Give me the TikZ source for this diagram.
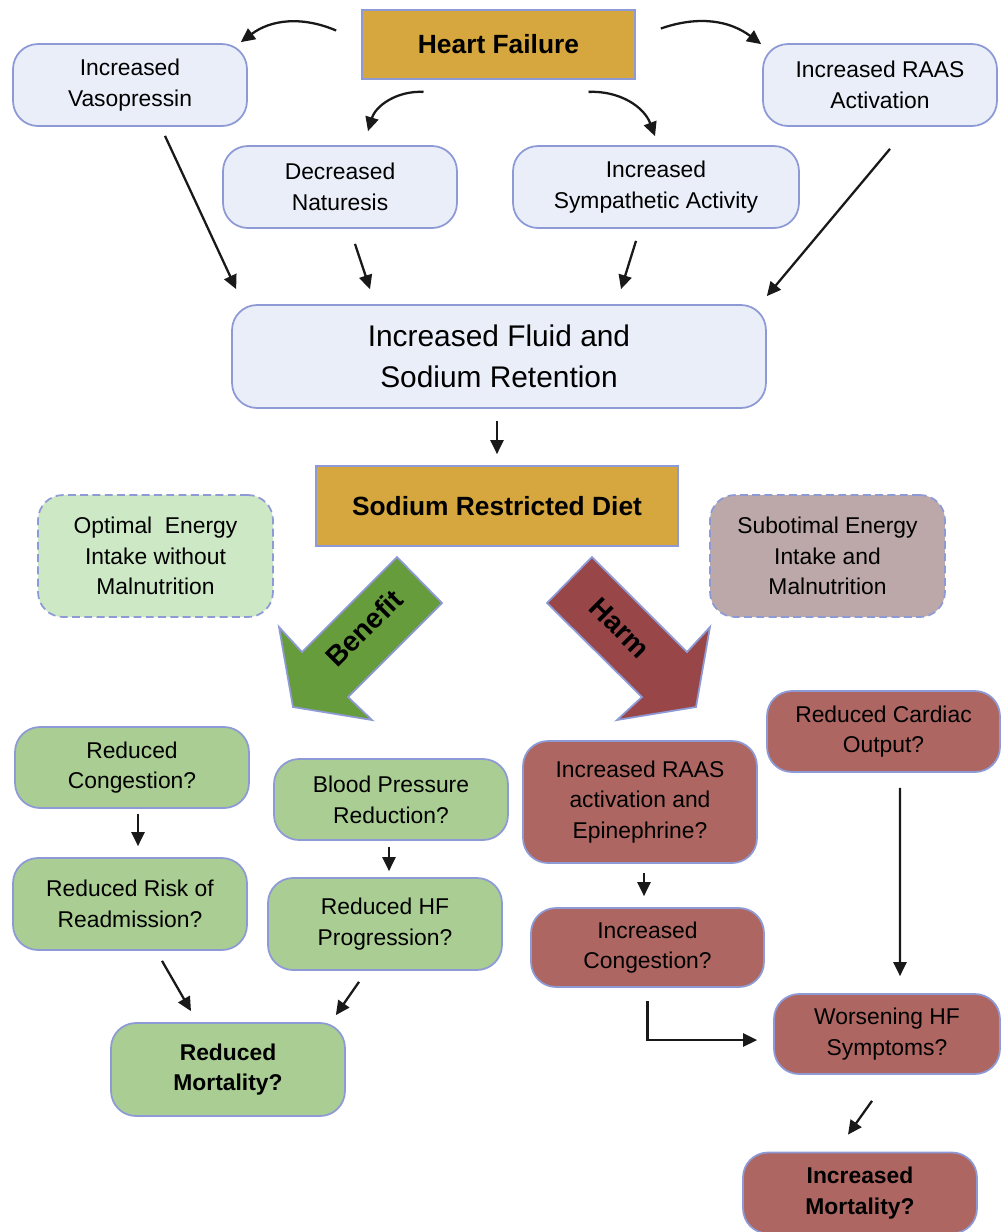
\documentclass[tikz,border=0pt]{standalone}
\usepackage{fontspec}
\setmainfont{Liberation Sans}
\usetikzlibrary{calc,arrows.meta}
\definecolor{edgeblue}{HTML}{8E9AD6}
\definecolor{paleblue}{HTML}{EAEEF9}
\definecolor{gold}{HTML}{D5A73E}
\definecolor{leafgreen}{HTML}{A9CD93}
\definecolor{benefitgreen}{HTML}{669C3B}
\definecolor{rust}{HTML}{AD6661}
\definecolor{harmred}{HTML}{984648}
\definecolor{mintgreen}{HTML}{CDE8C5}
\definecolor{mauve}{HTML}{BCA8A8}
\newcommand{\bodyfont}{\fontsize{13}{17.5}\selectfont}
\newcommand{\headfont}{\fontsize{15}{19}\selectfont\bfseries}

\begin{document}
\begin{tikzpicture}[x=0.02cm,y=-0.02cm,>={Triangle[length=8pt,width=7.5pt]},
  box/.style={draw=edgeblue,line width=1pt,rounded corners=0.5cm,align=center,font=\bodyfont},
  bluebox/.style={box,fill=paleblue,minimum width=4.68cm,minimum height=1.64cm},
  greenbox/.style={box,fill=leafgreen,minimum width=4.68cm,minimum height=1.62cm},
  redbox/.style={box,fill=rust,minimum width=4.68cm,minimum height=1.62cm},
  dashbox/.style={box,dash pattern=on 4.5pt off 2.5pt,minimum width=4.7cm,minimum height=2.44cm},
  goldbox/.style={draw=edgeblue,line width=1pt,fill=gold,font=\headfont},
  arr/.style={->,line width=1.3pt,draw=black!90},
  bigarrow/.style={draw=edgeblue,line width=1pt},
  arrowlabel/.style={font=\fontsize{16}{16}\selectfont\bfseries}]
\useasboundingbox (0,0) rectangle (1002,1232);

% upper part
\node[goldbox,minimum width=5.46cm,minimum height=1.38cm] (hf) at (498.5,44.5) {Heart Failure};
\node[bluebox] (vaso) at (130,85) {Increased\\Vasopressin};
\node[bluebox] (raas) at (880,85) {Increased RAAS\\Activation};
\node[bluebox] (natur) at (340,187) {Decreased\\Naturesis};
\node[bluebox,minimum width=5.72cm] (symp) at (656,187) {Increased\\Sympathetic Activity};
\node[bluebox,minimum width=10.68cm,minimum height=2.06cm,font=\fontsize{17}{23}\selectfont] (fluid) at (499,356.5) {Increased Fluid and\\ Sodium Retention};
\node[goldbox,minimum width=7.24cm,minimum height=1.6cm] (diet) at (497,506) {Sodium Restricted Diet};
\node[dashbox,fill=mintgreen] (optimal) at (155.5,556) {Optimal~ Energy\\Intake without\\Malnutrition};
\node[dashbox,fill=mauve] (subopt) at (827.5,556) {Subotimal Energy\\Intake and\\Malnutrition};

\draw[arr] ($(hf.west)+(-25,-14)$) to[bend right=30] ($(vaso.north east)+(-7,-1)$);
\draw[arr] ($(hf.east)+(25,-16)$) to[bend left=28] ($(raas.north west)+(-1,1)$);
\draw[arr] ($(hf.south)+(-75,12)$) to[bend right=38] ($(natur.north)+(28,-14)$);
\draw[arr] ($(hf.south)+(90,12)$) to[bend left=36] ($(symp.north)+(-1,-9)$);
\draw[arr] ($(vaso.south)+(35,9)$) -- ($(fluid.north west)+(5,-15)$);
\draw[arr] ($(natur.south)+(15,15)$) -- ($(fluid.north)+(-129,-15)$);
\draw[arr] ($(symp.south)+(-20,12)$) -- ($(fluid.north)+(122,-15)$);
\draw[arr] ($(raas.south)+(10,22)$) -- ($(fluid.north east)+(0,-8)$);
\draw[arr] ($(fluid.south)+(-2,12)$) -- ($(diet.north)+(0,-11)$);

% benefit / harm
\draw[bigarrow,fill=benefitgreen] (397,557) -- (442,603) -- (348,697) -- (372,720) -- (293,707) -- (279,627) -- (302,652) -- cycle;
\node[arrowlabel,rotate=45] (benefit) at (364,628) {Benefit};
\draw[bigarrow,fill=harmred] (592,557) -- (547,603) -- (642,697) -- (617,720) -- (696,707) -- (710,627) -- (687,652) -- cycle;
\node[arrowlabel,rotate=-45] (harm) at (620,628) {Harm};

% benefit side
\node[greenbox] (rcong) at (132,767.5) {Reduced\\Congestion?};
\node[greenbox] (bp) at (391,799.5) {Blood Pressure\\Reduction?};
\node[greenbox,minimum height=1.84cm] (rrisk) at (130,904) {Reduced Risk of\\Readmission?};
\node[greenbox,minimum height=1.84cm] (rhf) at (385,924) {Reduced HF\\Progression?};
\node[greenbox,minimum height=1.86cm,font=\bodyfont\bfseries] (rmort) at (228,1069.5) {Reduced\\Mortality?};

\draw[arr] ($(rcong.south)+(6,5)$) -- ($(rrisk.north)+(8,-11)$);
\draw[arr] ($(bp.south)+(-2,6)$) -- ($(rhf.north)+(4,-6)$);
\draw[arr] ($(rrisk.south)+(32,10)$) -- ($(rmort.north)+(-37,-11)$);
\draw[arr] ($(rhf.south)+(-26,11)$) -- ($(rmort.north east)+(-10,-7)$);

% harm side
\node[redbox,minimum height=2.44cm] (epi) at (640,802) {Increased RAAS\\activation and\\Epinephrine?};
\node[redbox,minimum width=4.66cm] (rcard) at (883.5,731.5) {Reduced Cardiac\\Output?};
\node[redbox,minimum width=4.66cm,minimum height=1.58cm] (icong) at (647.5,947.5) {Increased\\Congestion?};
\node[redbox,minimum width=4.52cm,minimum height=1.6cm] (worse) at (887,1034) {Worsening HF\\Symptoms?};
\node[redbox,font=\bodyfont\bfseries] (imort) at (860,1193) {Increased\\Mortality?};

\draw[arr] ($(epi.south)+(4,9)$) -- ($(icong.north)+(-3.5,-11)$);
\draw[arr] ($(rcard.south)+(16.5,15)$) -- ($(worse.north)+(13,-17)$);
\draw[arr] ($(icong.south)+(0,13)$) |- ($(worse.west)+(-16,6)$);
\draw[arr] ($(worse.south)+(-15,26)$) -- ($(imort.north)+(-12,-17)$);
\end{tikzpicture}
\end{document}
